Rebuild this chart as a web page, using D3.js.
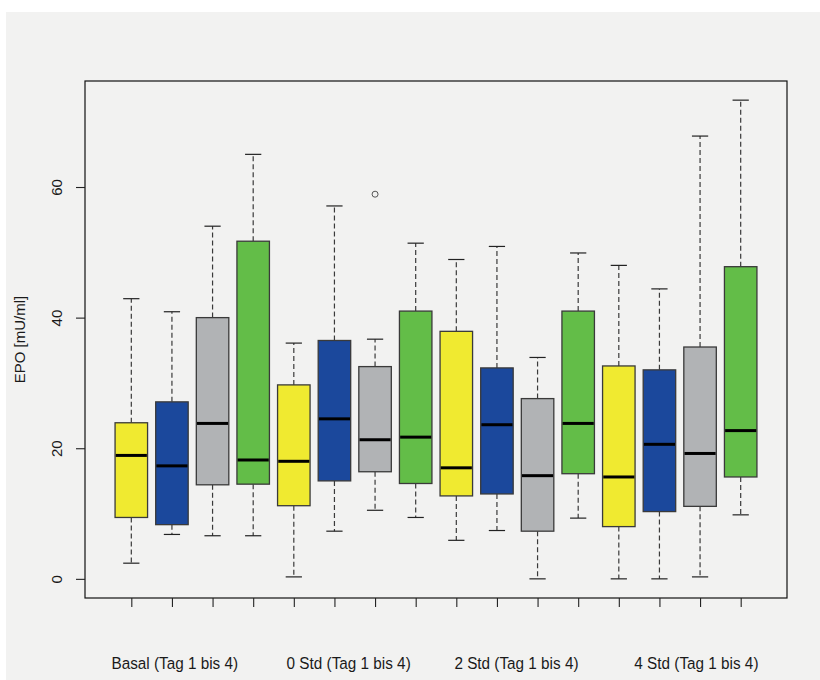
<!DOCTYPE html>
<html>
<head>
<meta charset="utf-8">
<script src="https://cdn.jsdelivr.net/npm/d3@7"></script>
<style>
  html, body { margin: 0; padding: 0; background: #ffffff; }
  svg { display: block; }
  text { font-family: "Liberation Sans", Arial, sans-serif; fill: #1a1a1a; }
</style>
</head>
<body>
<svg id="chart" width="820" height="680"></svg>
<script>
// EPO concentrations per time point and day (Tag 1..4), five-number summaries
const groups = ["Basal (Tag 1 bis 4)", "0 Std (Tag 1 bis 4)", "2 Std (Tag 1 bis 4)", "4 Std (Tag 1 bis 4)"];
const days = ["Tag 1", "Tag 2", "Tag 3", "Tag 4"];
const whiskerLow  = [2.4, 6.8, 6.6, 6.6,   0.3, 7.3, 10.5, 9.4,   5.9, 7.4, 0.0, 9.3,   0.0, 0.0, 0.3, 9.8];
const q1          = [9.4, 8.3, 14.4, 14.5, 11.2, 15.0, 16.4, 14.6, 12.7, 13.0, 7.3, 16.1, 8.0, 10.3, 11.1, 15.6];
const medians     = [18.9, 17.3, 23.8, 18.2, 18.0, 24.5, 21.3, 21.7, 17.0, 23.6, 15.8, 23.8, 15.6, 20.6, 19.2, 22.7];
const q3          = [23.9, 27.1, 40.0, 51.7, 29.7, 36.5, 32.5, 41.0, 37.9, 32.3, 27.6, 41.0, 32.6, 32.0, 35.5, 47.8];
const whiskerHigh = [42.9, 40.9, 54.0, 65.0, 36.1, 57.1, 36.7, 51.4, 48.9, 50.9, 33.9, 49.9, 48.0, 44.4, 67.8, 73.3];
const outliers    = [[], [], [], [], [], [], [58.9], [], [], [], [], [], [], [], [], []];
const yTicks = [0, 20, 40, 60];
const dayColors = ["#f0ea30", "#1b489c", "#b1b3b5", "#63bd48"];

const svg = d3.select("#chart");

// page background
svg.append("rect").attr("x", 6).attr("y", 12).attr("width", 814).attr("height", 668).attr("fill", "#f2f2f1");

const plot = { left: 85, right: 787, top: 81, bottom: 598 };
const n = medians.length;

// R-style ranges: boxes at 1..n, limits padded by 4 %
const xLo = 0.5, xHi = n + 0.5, xPad = (xHi - xLo) * 0.04;
const x = d3.scaleLinear().domain([xLo - xPad, xHi + xPad]).range([plot.left, plot.right]);

const allVals = whiskerLow.concat(whiskerHigh, outliers.flat());
const yMin = d3.min(allVals), yMax = d3.max(allVals), yPad = (yMax - yMin) * 0.04;
const y = d3.scaleLinear().domain([yMin - yPad, yMax + yPad]).range([plot.bottom, plot.top]);

const boxW = x(1.4) - x(0.6);
const capW = boxW / 2;

const boxes = d3.range(n).map(i => ({
  i, pos: i + 1,
  lo: whiskerLow[i], q1: q1[i], med: medians[i], q3: q3[i], hi: whiskerHigh[i],
  out: outliers[i], color: dayColors[i % days.length]
}));

const g = svg.append("g");

// whiskers (dashed) and staples
boxes.forEach(b => {
  const cx = x(b.pos);
  g.append("line").attr("x1", cx).attr("x2", cx).attr("y1", y(b.q3)).attr("y2", y(b.hi))
    .attr("stroke", "#3a3a3a").attr("stroke-width", 1.2).attr("stroke-dasharray", "5,3");
  g.append("line").attr("x1", cx).attr("x2", cx).attr("y1", y(b.q1)).attr("y2", y(b.lo))
    .attr("stroke", "#3a3a3a").attr("stroke-width", 1.2).attr("stroke-dasharray", "5,3");
  [b.hi, b.lo].forEach(v => {
    g.append("line").attr("x1", cx - capW / 2).attr("x2", cx + capW / 2)
      .attr("y1", y(v)).attr("y2", y(v)).attr("stroke", "#222").attr("stroke-width", 1.2);
  });
});

// boxes
g.selectAll("rect.box").data(boxes).join("rect")
  .attr("class", "box")
  .attr("x", d => x(d.pos) - boxW / 2)
  .attr("width", boxW)
  .attr("y", d => y(d.q3))
  .attr("height", d => y(d.q1) - y(d.q3))
  .attr("fill", d => d.color)
  .attr("stroke", "#3a3a3a").attr("stroke-width", 1.3);

// medians
g.selectAll("line.med").data(boxes).join("line")
  .attr("class", "med")
  .attr("x1", d => x(d.pos) - boxW / 2 + 0.7)
  .attr("x2", d => x(d.pos) + boxW / 2 - 0.7)
  .attr("y1", d => y(d.med)).attr("y2", d => y(d.med))
  .attr("stroke", "#000").attr("stroke-width", 3);

// outliers
boxes.forEach(b => {
  b.out.forEach(v => {
    g.append("circle").attr("cx", x(b.pos)).attr("cy", y(v)).attr("r", 3)
      .attr("fill", "none").attr("stroke", "#555").attr("stroke-width", 1);
  });
});

// frame
svg.append("rect").attr("x", plot.left).attr("y", plot.top)
  .attr("width", plot.right - plot.left).attr("height", plot.bottom - plot.top)
  .attr("fill", "none").attr("stroke", "#111").attr("stroke-width", 1.2);

// y axis
const yAxis = d3.axisLeft(y).tickValues(yTicks).tickSize(9).tickPadding(0).tickFormat(d3.format("d"));
const ya = svg.append("g").attr("transform", `translate(${plot.left},0)`).call(yAxis);
ya.select(".domain").remove();
ya.selectAll(".tick line").attr("stroke", "#222").attr("stroke-width", 1.1);
ya.selectAll(".tick text").remove();
ya.selectAll(".tick").append("text")
  .attr("transform", "translate(-28,0) rotate(-90)")
  .attr("text-anchor", "middle").attr("dy", "0.35em")
  .style("font-size", "15px").text(d => d);

// x axis ticks at every box
const xAxis = d3.axisBottom(x).tickValues(boxes.map(b => b.pos)).tickSize(9).tickFormat("");
const xa = svg.append("g").attr("transform", `translate(0,${plot.bottom})`).call(xAxis);
xa.select(".domain").remove();
xa.selectAll(".tick line").attr("stroke", "#222").attr("stroke-width", 1.1);

// group captions under the axis
const captionPos = [2.07, 6.35, 10.48, 14.91];
svg.selectAll("text.group").data(groups).join("text")
  .attr("class", "group")
  .attr("transform", (d, i) => `translate(${x(captionPos[i])},669) scale(1,1.1)`)
  .attr("text-anchor", "middle")
  .style("font-size", "15.3px")
  .text(d => d);

// y axis title
svg.append("text")
  .attr("transform", `translate(25,${(plot.top + plot.bottom) / 2}) rotate(-90)`)
  .attr("text-anchor", "middle")
  .style("font-size", "15px")
  .text("EPO [mU/ml]");
</script>
</body>
</html>
